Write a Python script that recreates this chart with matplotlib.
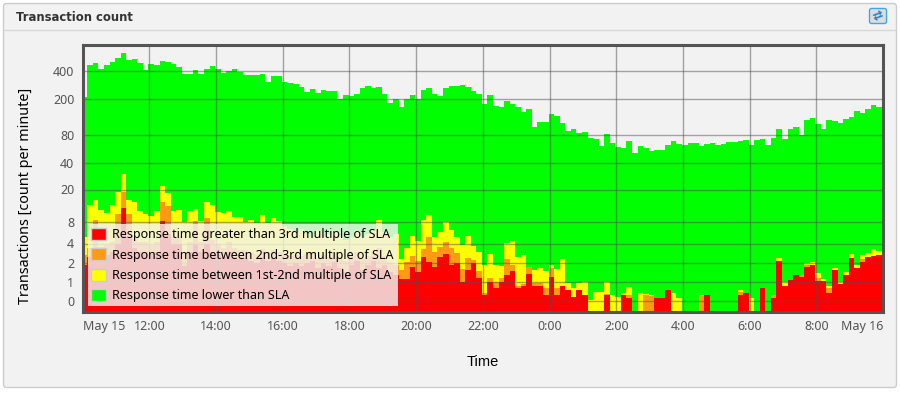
import numpy as np
import matplotlib
matplotlib.use("Agg")
import matplotlib.pyplot as plt
from matplotlib.patches import FancyBboxPatch, Patch

plt.rcParams["font.family"] = ["Noto Sans","DejaVu Sans"]

# transaction counts per 10 minute bucket, each list is the top of that layer
total = [206,466,494,421,469,498,551,631,528,542,486,410,477,462,515,502,473,446,368,371,
         410,374,417,450,421,384,397,417,393,358,358,362,371,300,352,352,303,298,286,267,
         235,252,229,245,243,243,197,216,212,224,258,274,262,267,224,178,200,160,200,218,
         197,245,262,225,211,262,276,276,283,267,239,224,175,220,166,161,187,176,162,143,
         152,97,111,111,134,130,108,88,92,85,87,74,73,61,82,66,59,58,69,51,
         61,57,53,55,55,62,68,64,62,66,65,61,64,66,63,64,67,67,68,70,
         62,71,73,62,74,93,72,93,97,81,118,123,105,94,118,115,108,121,127,148,
         139,152,169,161,79]
yellow_top = [4.9,13.2,15,11.3,10.3,13,18.5,29.5,15,14,11,10,9.5,11,22,18,11,11.3,8,11,
              11.7,8.2,14,13,10.6,10.3,11,9.2,9.2,7.9,8.6,7.8,9.7,7.8,9.1,8.2,7,6.5,5.8,6.5,
              5.5,5,6,5,5.5,6,5,4.5,5,6,5,5.5,6,8.6,5.8,5,5.5,2.3,3.4,5.2,
              4.3,8.5,9.7,5,5.9,8,6.2,5,3.8,5.2,3.7,3,1.9,2.8,1.9,1.8,4.1,4.3,2.5,2.7,
              1.77,1.58,1.7,1.53,1.9,1.63,2.35,0.9,0.59,0.9,1,0.02,0.39,0.39,1,0.24,0.17,0.36,0.65,0,
              0.36,0.27,0.24,0.13,0.13,0.49,0.36,0.13,0,0,0,0.24,0.24,0,0,0,0,0,0.5,0.36,
              0.13,0,0.63,0,0.24,2.4,1,1.1,1.3,1.3,1.97,2.05,1.4,1.14,0.75,1.72,1,1.46,2.8,1.9,
              2.7,2.9,3.3,3.1,2.1]
orange_top = [2.7,3.5,8.5,3.6,3.8,4.2,10,18.5,10,5,4.2,4.2,3.8,4.2,14,12.6,5,5,2.8,4.2,
              8.2,4.2,9.1,4.5,4,3.5,4.2,3.5,3.2,3.2,3,2.8,3.3,3,3.2,3,2.8,2.6,2.7,2.6,
              2.8,3,2.4,2.7,2.5,2.9,2.4,2.2,2.6,3,2.3,2.6,3,3.5,2.6,2.1,1.9,1.58,2.1,2.6,
              2.2,3.3,4.9,3,3.6,4.2,3.5,2.9,1.63,2.4,2.25,1.53,0.33,1.2,1,1.2,2.3,1.85,0.75,0.85,
              1.77,0.9,0.9,0.59,1.68,0.59,0.75,0.52,0.17,0.52,0.24,0,0,0,0.3,0,0,0.24,0.26,0,
              0,0.24,0.21,0.13,0.13,0.49,0,0,0,0,0,0.21,0.24,0,0,0,0,0,0.39,0.36,
              0,0,0.63,0,0.24,2.2,0.75,1.1,1.3,1.3,1.85,1.85,1.2,1.05,0.59,1.58,0.88,1.3,2.4,1.72,
              2.3,2.53,2.6,2.7,2.1]
red_top = [1.85,2.5,3.5,2.5,2.7,3,4,11.8,5,3.5,3,3,2.8,3,8.2,5.5,4,4,1.8,3,
           4,3,4,3,2.8,2.5,3,2.5,2.3,2.4,2.2,2,2.5,2.2,2.4,2.2,2,1.8,2,1.8,
           2,2.2,1.7,2,1.8,2.1,1.7,1.5,1.9,2.2,1.6,1.9,2.2,1.7,1.9,1.5,1.3,1.14,1.14,1.77,
           1.5,2.5,2.1,1.77,2.55,2.8,1.85,1.97,1,1.58,2,1.2,0.24,1,0.63,1,1.3,1.53,0.59,0.7,
           1.37,0.75,0.75,0.24,1.23,0.24,0.75,0.49,0.17,0.52,0.24,0,0,0,0.24,0,0,0.24,0.13,0,
           0,0,0,0.13,0.13,0.49,0,0,0,0,0,0,0.24,0,0,0,0,0,0.24,0.36,
           0,0,0.63,0,0.13,2.15,0.75,1.1,1.3,1.23,1.77,1.85,1.05,1.05,0.36,1.58,0.88,1.3,2.4,1.72,
           2.1,2.53,2.6,2.7,2.1]

y_ticks = [0,1,2,4,8,20,40,80,200,400]
x_ticks = [0,120,240,360,480,600,720,840,960,1080,1200,1320,1440]
x_labels = ["May 15","12:00","14:00","16:00","18:00","20:00","22:00","0:00","2:00","4:00","6:00","8:00","May 16"]
series_names = ["Response time greater than 3rd multiple of SLA",
                "Response time between 2nd-3rd multiple of SLA",
                "Response time between 1st-2nd multiple of SLA",
                "Response time lower than SLA"]
colors = ["#ff0000","#ff9a14","#ffff00","#00ff00"]

W, H = 900, 393
grey = "#545454"

# y axis of the original is log like, with a stretch near zero
scale_vals = np.array([-0.6,0,1,2,4,8,20,40,80,200,400,782])
scale_px = 312 - np.array([312,301,282,263,243.5,222,189.5,162.5,135,98.5,71,44.5])
scale_log = np.log2(scale_vals + 1)

def forward(v):
    return np.interp(np.log2(np.maximum(v, -0.99) + 1), scale_log, scale_px)

def inverse(p):
    return 2 ** np.interp(p, scale_px, scale_log) - 1

fig = plt.figure(figsize=(W/100, H/100), dpi=100, facecolor="white")

# panel behind the chart, in pixels
bg = fig.add_axes([0,0,1,1])
bg.axis("off")
bg.add_patch(FancyBboxPatch((3.5,3.5),893,384,boxstyle="round,pad=0,rounding_size=3",fc="#f2f2f2",ec="#cccccc",lw=1))
grad = np.linspace(0.90,0.70,40).reshape(-1,1)
bg.imshow(grad,extent=(4,896,29,4),cmap="gray",vmin=0,vmax=1,aspect="auto")
bg.set_xlim(0,W)
bg.set_ylim(H,0)
bg.plot([4,896],[29.5,29.5],color="#d8d8d8",lw=1)
bg.text(16,17.5,"Transaction count",fontsize=8.35,fontweight="bold",color="#333333",va="center",family="DejaVu Sans")
bg.add_patch(FancyBboxPatch((869.5,8.5),17,15,boxstyle="round,pad=0,rounding_size=2",fc="#dddddd",ec="#3fa9e8",lw=1))
bg.text(878,16,"\u21c4",fontsize=9,color="#2a7fc0",ha="center",va="center",fontweight="bold",rotation=20,family="DejaVu Sans")

ax = fig.add_axes([82.7/W,1-312/H,(883-82.7)/W,(312-44.5)/H])
ax.set_facecolor("#f2f2f2")
ax.set_yscale("function",functions=(forward,inverse))
ax.set_xlim(0,1440)
ax.set_ylim(-0.6,782)

starts = -1.7 + 10*np.arange(len(total))
layers = [(total,colors[3]),(yellow_top,colors[2]),(orange_top,colors[1]),(red_top,colors[0])]
for tops,col in layers:
    tops = np.array(tops,dtype=float)
    keep = tops > 0
    ax.bar(starts[keep],tops[keep]+0.6,width=10,bottom=-0.6,align="edge",color=col,linewidth=0,antialiased=False,zorder=2)

ax.set_xticks(x_ticks)
ax.set_xticklabels(x_labels)
ax.set_yticks(y_ticks)
ax.set_yticklabels([str(v) for v in y_ticks])
ax.minorticks_off()
ax.tick_params(length=0,labelcolor=grey,labelsize=9)
ax.tick_params(axis="x",pad=6)
ax.tick_params(axis="y",pad=6)
ax.get_xticklabels()[0].set_ha("left")
ax.get_xticklabels()[-1].set_ha("right")
ax.grid(True,color="#505050",alpha=0.5,lw=1,zorder=3)
ax.set_axisbelow(False)
for s in ax.spines.values():
    s.set_color(grey)
    s.set_linewidth(2.2)
    s.set_zorder(6)

handles = [Patch(facecolor=c,edgecolor="#cccccc",lw=1) for c in colors]
leg = ax.legend(handles,series_names,loc="lower left",
                bbox_to_anchor=((87.5-82.7)/(883-82.7),(312-306)/(312-44.5)),
                borderaxespad=0,fontsize=9,frameon=True,fancybox=False,
                facecolor="#f2f2f2",edgecolor="none",framealpha=0.82,
                handlelength=1.2,handleheight=1.1,handletextpad=0.5,labelspacing=0.57,
                borderpad=0.3,labelcolor="black")

fig.text(25.5/W,1-196/H,"Transactions [count per minute]",rotation=90,fontsize=10.3,ha="center",va="center",color="black")
fig.text(483/W,1-362/H,"Time",fontsize=10.5,ha="center",va="center",color="black",family="Liberation Sans")

fig.savefig("out.png",dpi=100,facecolor="white")
